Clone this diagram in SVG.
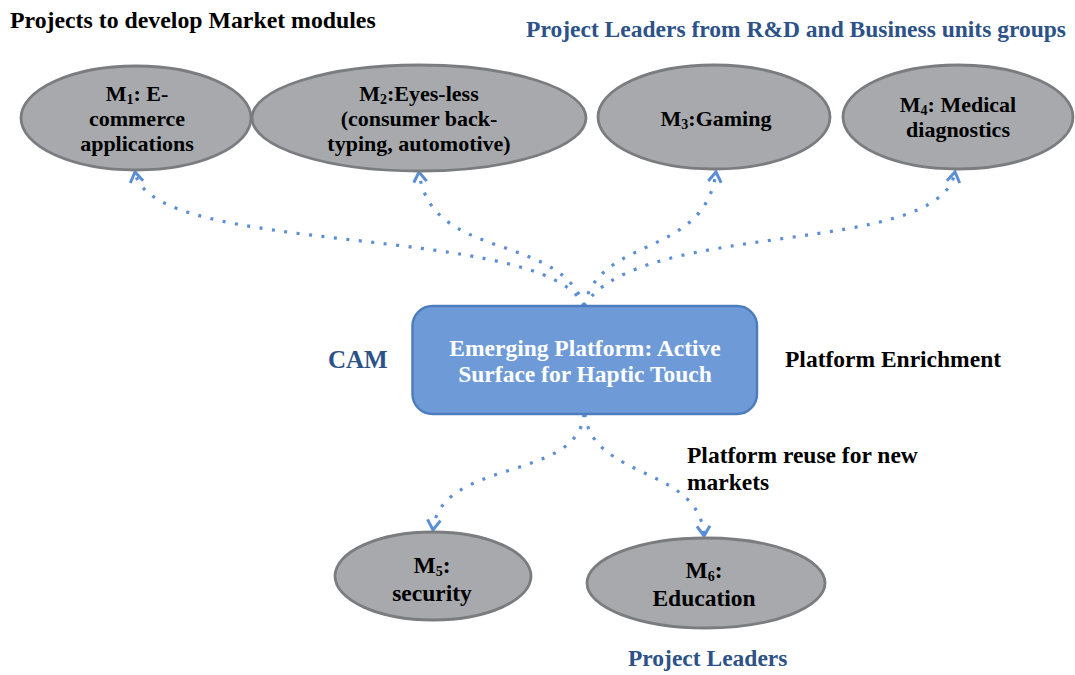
<svg xmlns="http://www.w3.org/2000/svg" width="1075" height="675" viewBox="0 0 1075 675">
<style>
  text { font-family: "Liberation Serif", "Times New Roman", serif; font-weight: bold; }
  .lbl { font-size: 23.5px; fill: #000; }
  .blue { fill: #2C5288; }
  .node ellipse { fill: #A7A9AC; stroke: #7A7C7F; stroke-width: 2.8; }
  .ntxt { font-size: 22px; fill: #000; text-anchor: middle; }
  .btxt { font-size: 23.5px; fill: #000; text-anchor: middle; }
  .sub { font-size: 14px; }
  .conn { fill: none; stroke: #5B8ED6; stroke-width: 3.2; stroke-dasharray: 3 9.5; marker-end: url(#arr); }
</style>
<defs>
  <marker id="arr" markerUnits="userSpaceOnUse" viewBox="-12 -10 16 20" markerWidth="16" markerHeight="20" refX="0" refY="0" orient="auto" overflow="visible">
    <path d="M-10,-6.5 L0,0 L-10,6.5" fill="none" stroke="#5B8ED6" stroke-width="3" stroke-linejoin="miter"/>
  </marker>
</defs>
<rect width="1075" height="675" fill="#fff"/>

<text class="lbl" x="10" y="28" style="font-size:23.8px">Projects to develop Market modules</text>
<text class="lbl blue" x="1066" y="37" text-anchor="end">Project Leaders from R&amp;D and Business units groups</text>

<g id="connectors">
  <path class="conn" d="M584,306 C545,222 150,258 135,172"/>
  <path class="conn" d="M584,306 C560,232 430,262 419,172"/>
  <path class="conn" d="M584,306 C600,235 705,258 716,172"/>
  <path class="conn" d="M584,306 C640,218 940,258 955,172"/>
  <path class="conn" d="M584,414 C578,482 440,458 433,530"/>
  <path class="conn" d="M585,414 C592,480 700,466 704,536"/>
</g>

<g id="m1" class="node">
  <ellipse cx="136" cy="118" rx="115" ry="52"/>
  <text class="ntxt" x="137" y="101">M<tspan class="sub" dy="3">1</tspan><tspan dy="-3">: E-</tspan></text>
  <text class="ntxt" x="137" y="126">commerce</text>
  <text class="ntxt" x="137" y="151">applications</text>
</g>
<g id="m2" class="node">
  <ellipse cx="419" cy="118" rx="167" ry="53"/>
  <text class="ntxt" x="419" y="101">M<tspan class="sub" dy="3">2</tspan><tspan dy="-3">:Eyes-less</tspan></text>
  <text class="ntxt" x="419" y="126">(consumer back-</text>
  <text class="ntxt" x="419" y="151">typing, automotive)</text>
</g>
<g id="m3" class="node">
  <ellipse cx="714" cy="117" rx="116" ry="52"/>
  <text class="ntxt" x="716" y="126">M<tspan class="sub" dy="3">3</tspan><tspan dy="-3">:Gaming</tspan></text>
</g>
<g id="m4" class="node">
  <ellipse cx="958" cy="117" rx="115" ry="52"/>
  <text class="ntxt" x="958" y="112">M<tspan class="sub" dy="3">4</tspan><tspan dy="-3">: Medical</tspan></text>
  <text class="ntxt" x="958" y="137">diagnostics</text>
</g>

<g id="platform">
  <rect x="412.5" y="306" width="344.5" height="108" rx="20" fill="#6E9BD7" stroke="#4E7DBE" stroke-width="2.5"/>
  <text class="btxt" x="585" y="356" style="fill:#fff">Emerging Platform: Active</text>
  <text class="btxt" x="585" y="382" style="fill:#fff">Surface for Haptic Touch</text>
</g>

<text class="blue" x="328" y="368" style="font-size:25px">CAM</text>
<text class="lbl" x="785" y="367">Platform Enrichment</text>
<text class="lbl" x="687" y="463">Platform reuse for new</text>
<text class="lbl" x="687" y="490">markets</text>

<g id="m5" class="node">
  <ellipse cx="433" cy="576" rx="98" ry="44"/>
  <text class="btxt" x="432" y="573">M<tspan class="sub" dy="3" style="font-size:14px">5</tspan><tspan dy="-3">:</tspan></text>
  <text class="btxt" x="432" y="601">security</text>
</g>
<g id="m6" class="node">
  <ellipse cx="706" cy="583" rx="119" ry="45"/>
  <text class="btxt" x="704" y="578">M<tspan class="sub" dy="3" style="font-size:14px">6</tspan><tspan dy="-3">:</tspan></text>
  <text class="btxt" x="704" y="606">Education</text>
</g>

<text class="lbl blue" x="628" y="666">Project Leaders</text>
</svg>
